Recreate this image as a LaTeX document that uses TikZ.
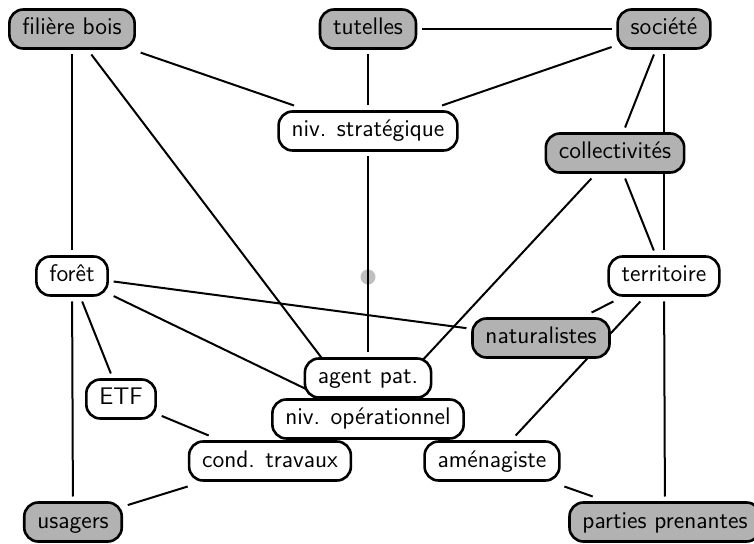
\documentclass[tikz,border=0pt]{standalone}
\usetikzlibrary{positioning,backgrounds}
\begin{document}
\begin{tikzpicture}[
        x=0.5pt, y=-0.5pt,
        actor/.style={rectangle, rounded corners=7pt, draw=black, line width=1.3pt,
                      fill=white, font=\sffamily\fontsize{12}{14}\selectfont,
                      inner xsep=6.5pt, minimum height=19.5pt,
                      text height=8.5pt, text depth=2.5pt, outer sep=3pt},
        extern/.style={actor, fill=gray!60},
        pivot/.style={circle, fill=gray!50, minimum size=7.5pt, inner sep=0pt},
        link/.style={line width=1pt, black}
    ]
        \useasboundingbox (0,0) rectangle (754,544);

        % outside actors
        \node[extern] (filiere) at (72,29) {filière bois};
        \node[extern] (tutelles) at (368,29) {tutelles};
        \node[extern] (societe) at (664,29) {société};
        \node[extern] (collect) at (615,153) {collectivités};
        \node[extern] (natur) at (541,338) {naturalistes};
        \node[extern] (usagers) at (73,522) {usagers};
        \node[extern] (parties) at (665,522) {parties prenantes};

        % inside actors
        \node[actor] (strat) at (368,131) {niv. stratégique};
        \node[actor] (foret) at (72,276) {forêt};
        \node[actor] (territ) at (664,276) {territoire};
        \node[actor] (etf) at (121,399) {ETF};
        \node[actor] (oper) at (368,419) {niv. opérationnel};
        \node[actor] (agent) at (368,378) {agent pat.};
        \node[actor] (cond) at (270,461) {cond. travaux};
        \node[actor] (amenag) at (492,461) {aménagiste};

        % links, behind the boxes
        \begin{scope}[on background layer]
            \node[pivot] (centre) at (368,277) {};
            \draw[link] (filiere) -- (foret);
            \draw[link] (filiere) -- (strat);
            \draw[link] (filiere) -- (oper);
            \draw[link] (tutelles) -- (societe);
            \draw[link] (tutelles) -- (strat);
            \draw[link] (societe) -- (strat);
            \draw[link] (societe) -- (collect);
            \draw[link] (societe) -- (territ);
            \draw[link] (collect) -- (territ);
            \draw[link] (collect) -- (oper);
            \draw[link] (strat) -- (agent);
            \draw[link] (foret) -- (natur);
            \draw[link] (foret) -- (oper);
            \draw[link] (foret) -- (etf);
            \draw[link] (foret) -- (usagers);
            \draw[link] (territ) -- (natur);
            \draw[link] (territ) -- (amenag);
            \draw[link] (territ) -- (parties);
            \draw[link] (etf) -- (cond);
            \draw[link] (cond) -- (usagers);
            \draw[link] (amenag) -- (parties);
        \end{scope}
    \end{tikzpicture}
\end{document}
